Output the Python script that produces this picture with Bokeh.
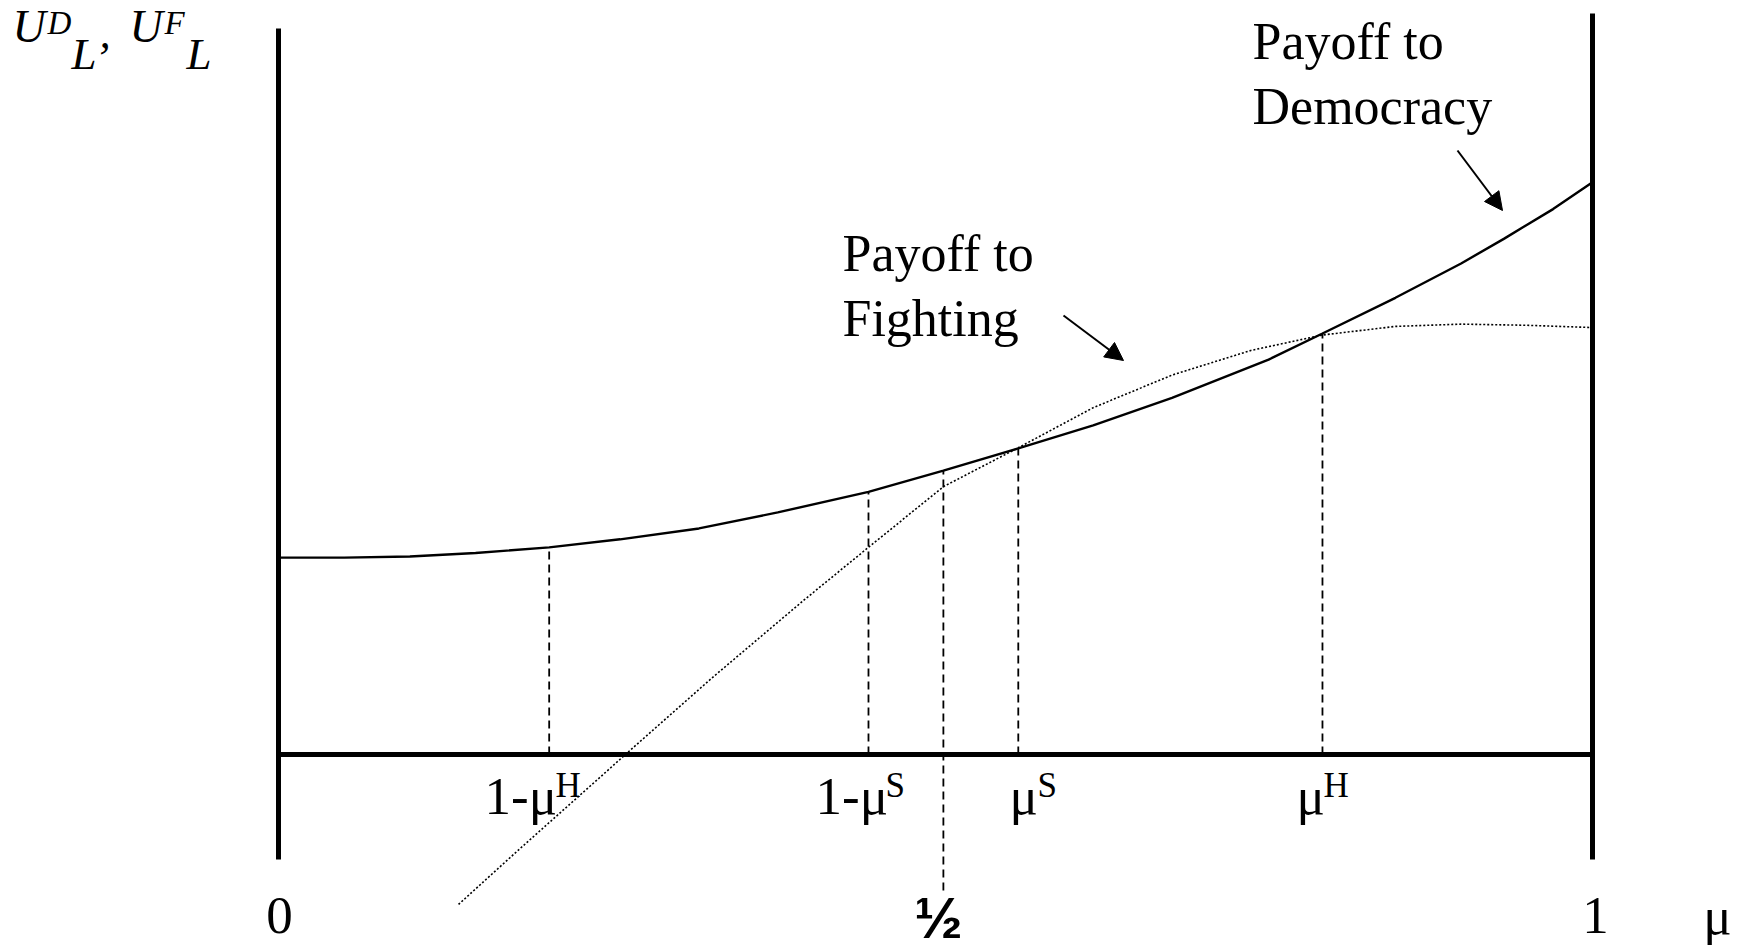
from bokeh.plotting import figure
from bokeh.models import Range1d, Arrow, NormalHead
from bokeh.core.properties import value
from bokeh.embed import file_html
from bokeh.resources import INLINE

# ---------------- data ----------------
# payoff to democracy U^D_L as a function of mu
mu_dem = [0.0, 0.05, 0.10, 0.15, 0.206, 0.26, 0.32, 0.38, 0.449, 0.506, 0.563,
          0.62, 0.68, 0.7535, 0.7945, 0.85, 0.90, 0.9325, 0.97, 1.0]
payoff_dem = [0.344, 0.344, 0.346, 0.352, 0.362, 0.376, 0.395, 0.423, 0.459, 0.496, 0.535,
              0.575, 0.623, 0.690, 0.7356, 0.798, 0.858, 0.901, 0.953, 1.0]

# payoff to fighting U^F_L as a function of mu
mu_fight = [0.137, 0.184, 0.249, 0.264, 0.33, 0.40, 0.449, 0.506, 0.563, 0.62, 0.68,
            0.74, 0.7945, 0.85, 0.90, 0.95, 1.0]
payoff_fight = [-0.262, -0.164, -0.031, 0.0, 0.134, 0.27, 0.362, 0.468, 0.536, 0.606, 0.663,
                0.706, 0.733, 0.748, 0.752, 0.750, 0.746]

# critical values of mu marked on the axis
marker_mu = [0.206, 0.449, 0.506, 0.563, 0.7945]
marker_top = [0.362, 0.459, 0.496, 0.535, 0.7356]
marker_bottom = [0.0, 0.0, -0.2376, 0.0, 0.0]
tick_main = ["1-μ", "1-μ", "μ", "μ"]
tick_sup = ["H", "S", "S", "H"]
half_label = "½"
end_labels = ["0", "1", "μ"]

# ---------------- layout helpers (screen px -> data) ----------------
X0, XW = 278.0, 1314.0
Y0, YH = 754.0, 572.3
BASE_SHIFT = 0.37   # svg text baseline correction, in em


def X(px):
    return (px - X0) / XW


def Y(py):
    return (Y0 - py) / YH


def TY(py, size):
    # baseline at screen py for a font of `size` px
    return Y(py - BASE_SHIFT * size)


W, H = 1750, 951
p = figure(width=W, height=H, output_backend="svg", toolbar_location=None,
           x_range=Range1d(X(0), X(W)), y_range=Range1d(Y(H), Y(0)),
           x_axis_type=None, y_axis_type=None, min_border=0,
           min_border_left=0, min_border_right=0, min_border_top=0, min_border_bottom=0)
p.grid.visible = False
p.outline_line_color = None
p.background_fill_color = "white"
p.border_fill_color = "white"

SERIF = value("Liberation Serif")

# frame: thick verticals and horizontal axis
p.segment(x0=[0.0, 1.0, 0.0], y0=[Y(859), Y(859), 0.0],
          x1=[0.0, 1.0, 1.0], y1=[Y(28), Y(13), 0.0],
          line_color="black", line_width=5)

# curves
p.line(mu_fight, payoff_fight, line_color="black", line_width=1.6, line_dash="2 2")
p.line(mu_dem, payoff_dem, line_color="black", line_width=2.4)

# dashed markers
p.segment(x0=marker_mu, y0=marker_bottom, x1=marker_mu, y1=marker_top,
          line_color="black", line_width=1.8, line_dash="8 5")

# arrows
p.add_layout(Arrow(end=NormalHead(size=18, fill_color="black", line_color="black"),
                   x_start=X(1457), y_start=Y(150), x_end=X(1502), y_end=Y(210),
                   line_color="black", line_width=2))
p.add_layout(Arrow(end=NormalHead(size=18, fill_color="black", line_color="black"),
                   x_start=X(1063), y_start=Y(315), x_end=X(1123), y_end=Y(360),
                   line_color="black", line_width=2))

# annotation texts
p.text(x=[X(1252), X(1252)], y=[TY(60, 52), TY(125, 52)], text=["Payoff to", "Democracy"],
       text_font=SERIF, text_font_size="52px", text_baseline="alphabetic", text_align="left")
p.text(x=[X(842), X(842)], y=[TY(272, 52), TY(337, 52)], text=["Payoff to", "Fighting"],
       text_font=SERIF, text_font_size="52px", text_baseline="alphabetic", text_align="left")

# tick-like labels on the axis
p.text(x=[X(484), X(815), X(1009), X(1296)], y=[TY(815, 53)] * 4, text=tick_main,
       text_font=SERIF, text_font_size="53px", text_baseline="alphabetic", text_align="left")
p.text(x=[X(555), X(885), X(1037), X(1323)], y=[TY(798, 35)] * 4, text=tick_sup,
       text_font=SERIF, text_font_size="35px", text_baseline="alphabetic", text_align="left")

p.text(x=[X(279), X(1595), X(1717)], y=[TY(935, 53)] * 3, text=end_labels,
       text_font=SERIF, text_font_size="53px", text_baseline="alphabetic", text_align="center")
p.text(x=[X(938)], y=[TY(938, 58)], text=[half_label],
       text_font=value("Liberation Sans"), text_font_size="58px", text_font_style="bold",
       text_baseline="alphabetic", text_align="center")

# y-axis label U^D_L, U^F_L
p.text(x=[X(12), X(129)], y=[TY(43, 46)] * 2, text=["U", "U"], text_font=SERIF,
       text_font_style="italic", text_font_size="46px", text_baseline="alphabetic")
p.text(x=[X(47), X(164)], y=[TY(35, 33)] * 2, text=["D", "F"], text_font=SERIF,
       text_font_style="italic", text_font_size="33px", text_baseline="alphabetic")
p.text(x=[X(71), X(186)], y=[TY(70, 45)] * 2, text=["L", "L"], text_font=SERIF,
       text_font_style="italic", text_font_size="45px", text_baseline="alphabetic")
p.text(x=[X(99)], y=[TY(50, 45)], text=[","], text_font=SERIF,
       text_font_style="italic", text_font_size="45px", text_baseline="alphabetic")

open("out.html", "w").write(file_html(p, INLINE))
